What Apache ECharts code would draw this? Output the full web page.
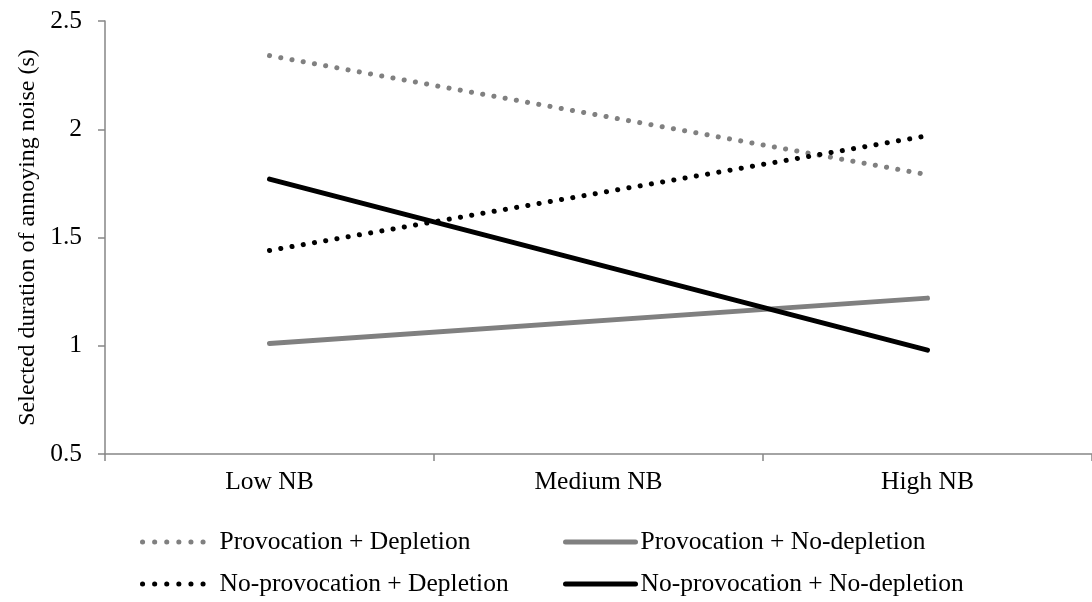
<!DOCTYPE html>
<html>
<head>
<meta charset="utf-8">
<script src="https://cdn.jsdelivr.net/npm/echarts@6/dist/echarts.min.js"></script>
<style>
html,body{margin:0;padding:0;background:#fff;}
#chart{width:1092px;height:602px;}
</style>
</head>
<body>
<div id="chart"></div>
<script>
// ---- data ----
const categories = ['Low NB', 'Medium NB', 'High NB'];
const provDepl = [2.34, null, 1.79];
const provNoDepl = [1.01, null, 1.22];
const noProvDepl = [1.44, null, 1.97];
const noProvNoDepl = [1.77, null, 0.98];
const seriesNames = [
  'Provocation + Depletion',
  'Provocation + No-depletion',
  'No-provocation + Depletion',
  'No-provocation + No-depletion'
];
const yTicks = { min: 0.5, max: 2.5, interval: 0.5 };
const yTitle = 'Selected duration of annoying noise (s)';

// ---- styles ----
const FONT = 'Liberation Serif';
const FS = 25.5;
const GRAY = '#808080';
const BLACK = '#000000';
const AXIS = '#868686';
const dotDash = [0.1, 11.3];

function legendFor(name, left, top, color, dotted) {
  return {
    data: [name],
    left: left, top: top,
    orient: 'horizontal',
    selectedMode: false,
    itemWidth: dotted ? 72 : 70,
    itemHeight: 14,
    itemGap: 0,
    padding: 0,
    itemStyle: { color: 'rgba(0,0,0,0)', borderWidth: 0, opacity: 0 },
    lineStyle: { width: 5, color: color, type: dotted ? [0.1, 12] : 'solid', cap: 'round' },
    textStyle: { fontFamily: FONT, fontSize: FS, color: '#000' }
  };
}

const chart = echarts.init(document.getElementById('chart'), null, { renderer: 'canvas' });
chart.setOption({
  animation: false,
  backgroundColor: '#fff',
  grid: { left: 105, top: 21, width: 994, height: 433, containLabel: false },
  xAxis: {
    type: 'category',
    data: categories,
    boundaryGap: true,
    axisLine: { lineStyle: { color: AXIS, width: 1.5 } },
    axisTick: { show: true, length: 7, inside: false, lineStyle: { color: AXIS, width: 1.5 } },
    axisLabel: { margin: 15, fontFamily: FONT, fontSize: FS, color: '#000' },
    splitLine: { show: false }
  },
  yAxis: {
    type: 'value',
    min: yTicks.min, max: yTicks.max, interval: yTicks.interval,
    name: yTitle,
    nameLocation: 'middle',
    nameGap: 64,
    nameRotate: 90,
    nameTextStyle: { fontFamily: FONT, fontSize: 24, color: '#000' },
    axisLine: { show: true, lineStyle: { color: AXIS, width: 1.5 } },
    axisTick: { show: true, length: 7, lineStyle: { color: AXIS, width: 1.5 } },
    axisLabel: { margin: 23, fontFamily: FONT, fontSize: FS, color: '#000',
      formatter: v => String(v) },
    splitLine: { show: false }
  },
  legend: [
    legendFor(seriesNames[0], 140, 529, GRAY, true),
    legendFor(seriesNames[1], 563, 529, GRAY, false),
    legendFor(seriesNames[2], 140, 571, BLACK, true),
    legendFor(seriesNames[3], 563, 571, BLACK, false)
  ],
  series: [
    { name: seriesNames[0], type: 'line', data: provDepl, connectNulls: true, symbol: 'none',
      lineStyle: { color: GRAY, width: 5, type: dotDash, cap: 'round' }, itemStyle: { color: GRAY } },
    { name: seriesNames[1], type: 'line', data: provNoDepl, connectNulls: true, symbol: 'none',
      lineStyle: { color: GRAY, width: 5, type: 'solid', cap: 'round' }, itemStyle: { color: GRAY } },
    { name: seriesNames[2], type: 'line', data: noProvDepl, connectNulls: true, symbol: 'none',
      lineStyle: { color: BLACK, width: 5, type: dotDash, cap: 'round' }, itemStyle: { color: BLACK } },
    { name: seriesNames[3], type: 'line', data: noProvNoDepl, connectNulls: true, symbol: 'none',
      lineStyle: { color: BLACK, width: 5, type: 'solid', cap: 'round' }, itemStyle: { color: BLACK } }
  ]
});
</script>
</body>
</html>
